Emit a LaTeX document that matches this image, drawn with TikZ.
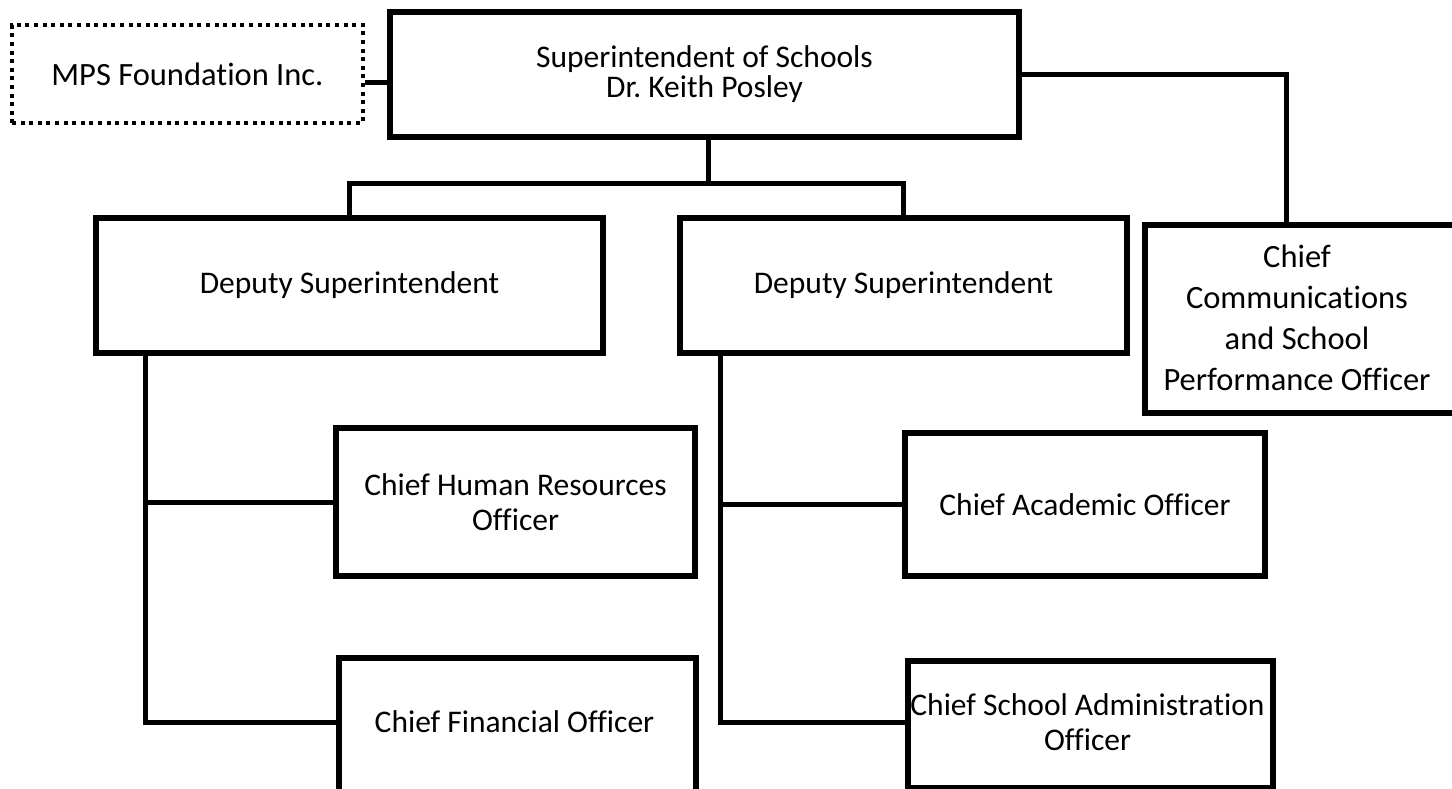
\documentclass[tikz,border=0pt]{standalone}
\usepackage{fontspec}
\setmainfont[Ligatures=NoCommon]{Carlito}
\usetikzlibrary{calc}
\frenchspacing

\tikzset{
  box/.style={draw=black, line width=5.5pt, rectangle, align=center, inner sep=0pt},
  dotbox/.style={draw=black, line width=4pt, dash pattern=on 4pt off 4.6pt, rectangle, align=center, inner sep=0pt},
  wire/.style={draw=black, line width=5pt},
  thin/.style={align=center, font=\fontsize{31.5}{30}\selectfont},
  thinwide/.style={align=center, font=\fontsize{31.5}{35.5}\selectfont},
  thick/.style={align=center, font=\fontsize{32.5}{41}\selectfont},
}

\begin{document}
\begin{tikzpicture}[x=1pt, y=-1pt]
\useasboundingbox (0,0) rectangle (1452,788);
\clip (0,0) rectangle (1452,788);

% top level
\node[dotbox, thick, minimum width=351, minimum height=98] (mps) at (187.5,74) {MPS Foundation Inc.};
\node[box, thin, minimum width=629, minimum height=125] (sup) at (704.5,74.5)
  {Superintendent of Schools\\Dr. Keith Posley};

% second level
\node[box, thin, minimum width=507, minimum height=135] (dep1) at (349.5,285.5) {Deputy Superintendent};
\node[box, thin, minimum width=447, minimum height=135] (dep2) at (903.5,285.5) {Deputy Superintendent};
\node[box, minimum width=340, minimum height=188, anchor=north west] (comm) at (1142,222) {};
\node[thick, anchor=center] (commtext) at (1297,318)
  {Chief\\Communications\\and School\\Performance Officer};

% third level, left branch
\node[box, thinwide, minimum width=359, minimum height=148] (chr) at (515.5,502)
  {Chief Human Resources\\Officer};
\node[box, minimum width=357, minimum height=170, anchor=north west] (cfo) at (336,655) {};
\node[thin, anchor=center] (cfotext) at (514.5,722) {Chief Financial Officer};

% third level, right branch
\node[box, thin, minimum width=360, minimum height=143] (cao) at (1085,504.5) {Chief Academic Officer};
\node[box, minimum width=365, minimum height=127, anchor=north west] (csao) at (905,658) {};
\node[thinwide, anchor=center] (csaotext) at (1087.5,722)
  {Chief School Administration\\Officer};

% connectors
\draw[wire] (mps.east |- 0,82) -- (sup.west |- 0,82);
\coordinate (bar) at ($(sup.south)+(3.5,44)$);
\draw[wire] (sup.south -| bar) -- (bar);
\draw[wire] (dep1.north) |- (bar) -| (dep2.north);
\coordinate (commdrop) at ($(comm.north west)+(144,0)$);
\draw[wire] (sup.east) -| (commdrop);

\coordinate (s1) at ($(dep1.south west)+(52,0)$);
\draw[wire] (s1) |- (chr.west);
\draw[wire] (s1) |- (cfotext -| cfo.west);

\coordinate (s2) at ($(dep2.south west)+(43,0)$);
\draw[wire] (s2) |- (cao.west);
\draw[wire] (s2) |- (csaotext -| csao.west);
\end{tikzpicture}
\end{document}
